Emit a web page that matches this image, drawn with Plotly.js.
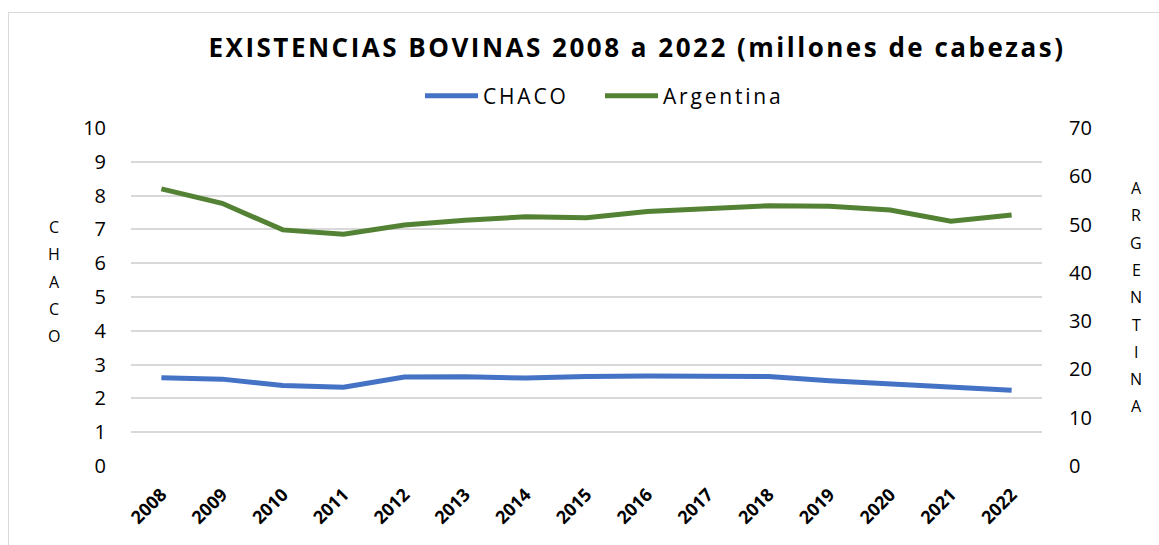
<!DOCTYPE html>
<html>
<head>
<meta charset="utf-8">
<script src="https://cdn.plot.ly/plotly-3.0.1.min.js"></script>
<style>
  html, body { margin: 0; padding: 0; background: #fff; }
  #wrap { position: relative; width: 1159px; height: 545px; overflow: hidden; }
  #chart { width: 1159px; height: 545px; }
  #frame { position: absolute; left: 8px; top: 12px; width: 1200px; height: 600px;
           border: 1px solid #d9d9d9; pointer-events: none; box-sizing: border-box; }
  .gtitle { letter-spacing: 2.5px; }
  .legendtext { letter-spacing: 2.8px; }
  #chart .legend, #chart .legend .scrollbox, #chart .legend g { clip-path: none !important; }
</style>
</head>
<body>
<div id="wrap">
  <div id="chart"></div>
  <div id="frame"></div>
</div>
<script>
const years = ["2008","2009","2010","2011","2012","2013","2014","2015","2016","2017","2018","2019","2020","2021","2022"];
const chaco = [2.61, 2.57, 2.38, 2.33, 2.63, 2.64, 2.60, 2.65, 2.66, 2.66, 2.65, 2.52, 2.42, 2.33, 2.24];
const argentina = [57.4, 54.4, 48.9, 48.0, 49.9, 50.9, 51.6, 51.4, 52.7, 53.4, 53.9, 53.8, 53.0, 50.7, 52.0];
const leftTitle = ["C","H","A","C","O"];
const rightTitle = ["A","R","G","E","N","T","I","N","A"];

const FONT = "Open Sans, Noto Sans, sans-serif";

const traces = [
  { x: years, y: chaco, name: "CHACO", type: "scatter", mode: "lines",
    line: { color: "#4472C4", width: 5 }, yaxis: "y" },
  { x: years, y: argentina, name: "Argentina", type: "scatter", mode: "lines",
    line: { color: "#548235", width: 5 }, yaxis: "y2" }
];

const H = 545;
const annotations = [];
leftTitle.forEach((ch, i) => {
  annotations.push({ text: ch, xref: "paper", yref: "paper", x: (54 - 131) / 911,
    y: (466 - (227 + i * 27.3)) / 338, xanchor: "center", yanchor: "middle",
    showarrow: false, font: { family: FONT, size: 16, color: "#000" } });
});
rightTitle.forEach((ch, i) => {
  annotations.push({ text: ch, xref: "paper", yref: "paper", x: (1136 - 131) / 911,
    y: (466 - (188 + i * 27.3)) / 338, xanchor: "center", yanchor: "middle",
    showarrow: false, font: { family: FONT, size: 16, color: "#000" } });
});

const layout = {
  width: 1159, height: 545,
  margin: { l: 131, r: 117, t: 128, b: 79 },
  paper_bgcolor: "#fff", plot_bgcolor: "#fff",
  font: { family: FONT, color: "#000" },
  title: { text: "EXISTENCIAS BOVINAS 2008 a 2022 (millones de cabezas)",
    font: { family: FONT, size: 26, color: "#000", weight: "bold" },
    xref: "container", yref: "container", x: 637 / 1159, y: 1 - 48 / H,
    xanchor: "center", yanchor: "middle" },
  showlegend: true,
  legend: { orientation: "h", xref: "container", yref: "container",
    x: 420 / 1159, y: 1 - 96 / H, xanchor: "left", yanchor: "middle",
    itemwidth: 53, entrywidth: 112, entrywidthmode: "pixels",
    font: { family: FONT, size: 21, color: "#000" }, bgcolor: "rgba(0,0,0,0)" },
  xaxis: { type: "category", range: [-0.5, 14.5], tickangle: -45,
    tickfont: { family: FONT, size: 18, color: "#000", weight: "bold" },
    showgrid: false, zeroline: false, showline: false,
    ticks: "outside", ticklen: 10, tickcolor: "rgba(0,0,0,0)" },
  yaxis: { range: [0, 10], dtick: 1, tick0: 0, showgrid: true, gridcolor: "#d9d9d9", gridwidth: 1.5,
    zeroline: false, showline: false, ticks: "outside", ticklen: 20, tickcolor: "rgba(0,0,0,0)",
    tickfont: { family: FONT, size: 20, color: "#000" } },
  yaxis2: { range: [0, 70], dtick: 10, tick0: 0, overlaying: "y", side: "right", showgrid: false,
    zeroline: false, showline: false, ticks: "outside", ticklen: 22, tickcolor: "rgba(0,0,0,0)",
    tickfont: { family: FONT, size: 20, color: "#000" } },
  annotations: annotations
};

Plotly.newPlot("chart", traces, layout, { displayModeBar: false, responsive: false });
</script>
</body>
</html>
